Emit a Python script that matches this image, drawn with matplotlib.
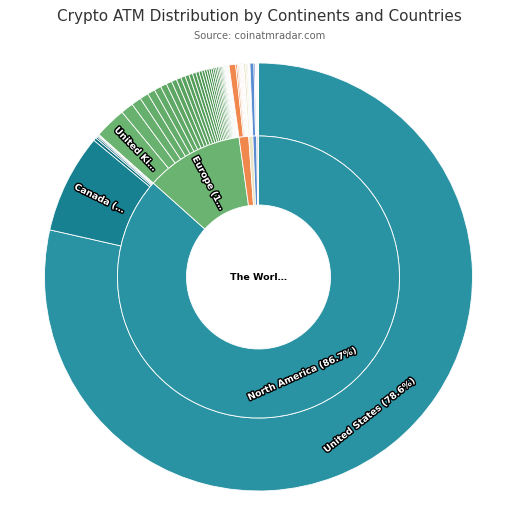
import matplotlib
matplotlib.use('Agg')
import matplotlib.pyplot as plt
import matplotlib.colors as mcolors
import matplotlib.patheffects as pe
import numpy as np

# ---------------- data ----------------
title = "Crypto ATM Distribution by Continents and Countries"
subtitle = "Source: coinatmradar.com"
center_label = "The Worl…"

continents = ["North America", "Europe", "Asia", "South America", "Oceania", "Africa"]
continent_labels = ["North America (86.7%)", "Europe (1…", "", "", "", ""]

na_countries = ["United States", "Canada", "Mexico", "Puerto Rico",
                "Dominican Republic", "Panama", "Guatemala"]
na_values = [78.6, 7.5, 0.22, 0.13, 0.10, 0.07, 0.05]
na_labels = ["United States (78.6%)", "Canada (…", "", "", "", "", ""]

eu_countries = ["United Kingdom", "Austria", "Spain", "Czech Republic", "Switzerland",
                "Italy", "Slovakia", "Netherlands", "Poland", "Romania", "Germany",
                "Slovenia", "Greece", "Russia", "Ukraine", "Finland", "Hungary",
                "Belgium", "Portugal", "Ireland", "Bulgaria", "France", "Estonia",
                "Croatia", "Lithuania", "Sweden", "Denmark", "Latvia", "Norway",
                "Serbia", "Luxembourg", "Georgia", "Cyprus", "Malta", "Iceland", "Belarus",
                "Bosnia", "Albania", "Moldova"]
eu_values = [2.4, 0.95, 0.75, 0.65, 0.58, 0.52, 0.47, 0.43, 0.39, 0.36, 0.33,
             0.30, 0.28, 0.26, 0.24, 0.22, 0.20, 0.18, 0.17, 0.16, 0.15, 0.14, 0.13,
             0.12, 0.11, 0.10, 0.09, 0.08,
             0.07, 0.06, 0.05, 0.05, 0.04, 0.04, 0.03, 0.03, 0.03, 0.02, 0.02]
eu_labels = ["United Ki…"] + [""] * (len(eu_countries) - 1)

as_countries = ["Hong Kong", "Japan", "Israel", "Singapore", "Thailand", "South Korea",
                "Taiwan", "Vietnam", "Philippines", "Turkey", "Indonesia", "Mongolia"]
as_values = [0.50, 0.12, 0.09, 0.07, 0.06, 0.05, 0.05, 0.04, 0.04, 0.03, 0.03, 0.02]

sa_countries = ["Colombia", "Argentina", "Brazil", "Chile", "Peru", "Ecuador", "Venezuela"]
sa_values = [0.15, 0.10, 0.08, 0.05, 0.04, 0.03, 0.02]

oc_countries = ["Australia", "New Zealand", "Fiji"]
oc_values = [0.30, 0.10, 0.04]

af_countries = ["South Africa", "Nigeria", "Kenya", "Ghana"]
af_values = [0.08, 0.05, 0.04, 0.03]

# ---------------- style ----------------
continent_colors = ["#2a93a3", "#6ab370", "#f0874d", "#e9e5c4", "#5b8bd0", "#dcdcdc"]
darken = [110, 70, 60, 40, 50, 30]   # max brightness drop for children

children_values = [na_values, eu_values, as_values, sa_values, oc_values, af_values]
children_labels = [na_labels, eu_labels,
                   [""] * len(as_values), [""] * len(sa_values),
                   [""] * len(oc_values), [""] * len(af_values)]

def shade(hex_color, drop):
    r, g, b = mcolors.to_rgb(hex_color)
    d = drop / 255.0
    return (max(r - d, 0), max(g - d, 0), max(b - d, 0))

inner_values = [sum(v) for v in children_values]
outer_values, outer_colors, outer_texts = [], [], []
for ci, vals in enumerate(children_values):
    n = len(vals)
    for i, v in enumerate(vals):
        outer_values.append(v)
        outer_colors.append(shade(continent_colors[ci], darken[ci] * i / max(n - 1, 1)))
        outer_texts.append(children_labels[ci][i])

W, H = 519, 520
fig = plt.figure(figsize=(W / 100, H / 100), dpi=100)
fig.patch.set_facecolor("white")

cx, cy, R = 258.5, 277, 214
ax = fig.add_axes([(cx - R) / W, (H - cy - R) / H, 2 * R / W, 2 * R / H])

r_hole = 72 / R
r_mid = 141 / R
edge = dict(edgecolor="white", linewidth=0.6)

ax.pie(outer_values, radius=1.0, colors=outer_colors, startangle=90, counterclock=False,
       wedgeprops=dict(width=1.0 - r_mid, **edge))
ax.pie(inner_values, radius=r_mid, colors=continent_colors, startangle=90, counterclock=False,
       wedgeprops=dict(width=r_mid - r_hole, **edge))
ax.set_xlim(-1, 1)
ax.set_ylim(-1, 1)
ax.set_aspect("equal")
ax.axis("off")

stroke = [pe.withStroke(linewidth=2.0, foreground="#000000")]

def norm_rot(a):
    a = (a + 180) % 360 - 180
    if a > 90:
        a -= 180
    if a < -90:
        a += 180
    return a

def place_labels(values, texts, r_in, r_out, total):
    cum = 0.0
    for v, t in zip(values, texts):
        mid = cum + v / 2
        cum += v
        if not t:
            continue
        theta = 360.0 * mid / total      # clockwise from top
        rr = (r_in + r_out) / 2
        x = rr * np.sin(np.radians(theta))
        y = rr * np.cos(np.radians(theta))
        phi = 90 - theta
        span = 360.0 * v / total
        if span > 90:
            rot = norm_rot(phi + 90)
        else:
            rot = norm_rot(phi)
        ax.text(x, y, t, rotation=rot, rotation_mode="anchor", ha="center", va="center",
                color="white", fontsize=6.6, fontweight="bold", path_effects=stroke)

total = sum(outer_values)
place_labels(inner_values, continent_labels, r_hole, r_mid, total)
place_labels(outer_values, outer_texts, r_mid, 1.0, total)

ax.text(0, 0, center_label, ha="center", va="center", fontsize=6.8, fontweight="bold", color="black")

fig.text(0.5, 1 - 17 / H, title, ha="center", va="center", fontsize=11, color="#333333")
fig.text(0.5, 1 - 36 / H, subtitle, ha="center", va="center", fontsize=7.2, color="#666666")

fig.savefig("out.png", dpi=100, facecolor="white")
